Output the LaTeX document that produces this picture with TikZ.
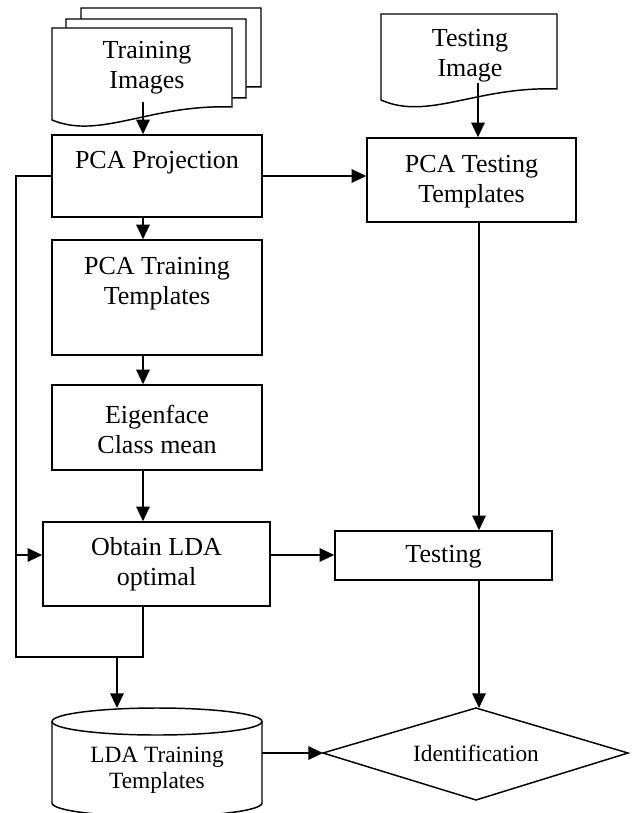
\documentclass[tikz,border=0pt]{standalone}
\usepackage{fontspec}
\setmainfont{Liberation Serif}
\usetikzlibrary{arrows.meta,calc}
\begin{document}
\begin{tikzpicture}[x=0.75pt,y=-0.75pt,
  shapeline/.style={draw=black, line width=1.1pt},
  boxnode/.style={shapeline, rectangle, inner sep=0pt},
  txt/.style={font=\fontsize{19.5}{22.5}\selectfont, align=center, inner sep=0pt},
  smalltxt/.style={font=\fontsize{17.5}{19.5}\selectfont, align=center, inner sep=0pt},
  conn/.style={line width=1.5pt, -{Triangle[length=11pt,width=10pt]}},
  wire/.style={line width=1.1pt}]
\useasboundingbox (0,0) rectangle (633,813);

% ---------- document stack: Training Images ----------
\foreach \dx/\dy in {29/-20, 14/-9, 0/0}{
  \draw[shapeline, fill=white, shift={(\dx,\dy)}]
    (52,120) -- (52,28) -- (232,28) -- (232,107)
    .. controls (150,104) and (100,140) .. cycle;
}
\node[txt] (trimg) at (147,68) {Training\\Images};
\coordinate (trS) at (143,102);

% ---------- document: Testing Image ----------
\draw[shapeline, fill=white]
  (381,100) -- (381,14) -- (557,14) -- (557,89)
  .. controls (477,86) and (428,121) .. cycle;
\node[txt] (teimg) at (470,56) {Testing\\Image};
\coordinate (teS) at (478,83);

% ---------- boxes ----------
\node[boxnode, minimum width=157.5pt, minimum height=61.5pt] (pcap) at (157,176) {};
\node[txt] (pcaptxt) at (157,163) {PCA Projection};

\node[boxnode, minimum width=157.5pt, minimum height=86.25pt] (pcatr) at (157,297.5) {};
\node[txt] (pcatrtxt) at (157,284) {PCA Training\\Templates};

\node[boxnode, minimum width=157.5pt, minimum height=63.75pt] (eig) at (157,427.5) {};
\node[txt] (eigtxt) at (157,429) {Eigenface\\Class mean};

\node[boxnode, minimum width=170.25pt, minimum height=63pt] (lda) at (156.5,564) {};
\node[txt] (ldatxt) at (156.5,564) {Obtain LDA\\optimal};

\node[boxnode, minimum width=156.75pt, minimum height=63pt] (pcat) at (471.5,180) {};
\node[txt] (pcattxt) at (471.5,182) {PCA Testing\\Templates};

\node[boxnode, minimum width=162.75pt, minimum height=36.75pt] (testing) at (443.5,555.5) {};
\node[txt] (testingtxt) at (443.5,557) {Testing};

% ---------- cylinder: LDA Training Templates ----------
\draw[shapeline, fill=white] (52,721.5) -- (52,803)
  arc[start angle=180, end angle=0, x radius=105, y radius=13.5] -- (262,721.5);
\draw[shapeline] (157,721.5) ellipse[x radius=105, y radius=13.5];
\node[smalltxt] (ldatr) at (157,770) {LDA Training\\Templates};
\coordinate (cylT) at (117,708);
\coordinate (cylR) at (262,753);

% ---------- diamond: Identification ----------
\coordinate (identL) at (323,753);
\coordinate (identT) at (476,708);
\coordinate (identR) at (628,753);
\coordinate (identB) at (476,800);
\draw[shapeline] (identL) -- (identT) -- (identR) -- (identB) -- cycle;
\node[smalltxt] (ident) at (476,753) {Identification};

% ---------- helper coordinates ----------
\coordinate (spine) at (143,0);
\coordinate (rspine) at (479,0);
\coordinate (loopTop) at (16,176);
\coordinate (loopBot) at (16,657);
\coordinate (join) at (143,657);
\coordinate (ldaIn) at (16,555);
\coordinate (cylDrop) at (117,657);

% ---------- connectors ----------
\draw[conn] (trS) -- (trS |- pcap.north);
\draw[conn] (teS) -- (teS |- pcat.north);
\draw[conn] (pcap.east) -- (pcat.west |- pcap.east);
\draw[conn] (spine |- pcap.south) -- (spine |- pcatr.north);
\draw[conn] (spine |- pcatr.south) -- (spine |- eig.north);
\draw[conn] (spine |- eig.south) -- (spine |- lda.north);
\draw[wire] (pcap.west) -- (loopTop) -- (loopBot) -- (join) -- (join |- lda.south);
\draw[conn] (ldaIn) -- (ldaIn -| lda.west);
\draw[conn] (cylDrop) -- (cylT);
\draw[conn] (ldaIn -| lda.east) -- (ldaIn -| testing.west);
\draw[conn] (rspine |- pcat.south) -- (rspine |- testing.north);
\draw[conn] (rspine |- testing.south) -- (rspine |- identT);
\draw[conn] (cylR) -- (identL);
\end{tikzpicture}
\end{document}
